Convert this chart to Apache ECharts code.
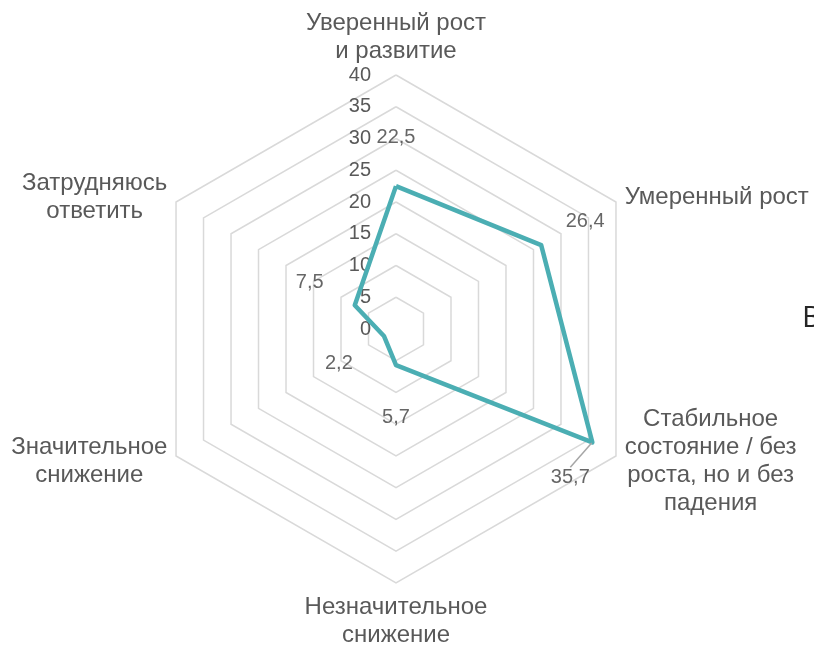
<!DOCTYPE html>
<html>
<head>
<meta charset="utf-8">
<script src="https://cdn.jsdelivr.net/npm/echarts@6/dist/echarts.min.js"></script>
<style>
  html, body { margin: 0; padding: 0; background: #fff; }
  #chart { width: 814px; height: 646px; }
</style>
</head>
<body>
<div id="chart"></div>
<script>
// Categories clockwise from the top
const categories = [
  "Уверенный рост\nи развитие",
  "Умеренный рост",
  "Стабильное\nсостояние / без\nроста, но и без\nпадения",
  "Незначительное\nснижение",
  "Значительное\nснижение",
  "Затрудняюсь\nответить",
];
const values = [22.5, 26.4, 35.7, 5.7, 2.2, 7.5];
const axisMax = 40;
const axisSplits = 8;

// label shifts (px) for the value labels
const labelShift = [
  [0, -49],
  [44, -24],
  [-22, 35],
  [0, 52],
  [-45, 27],
  [-45, -23],
];

const center = [396, 329];
const radius = 254;
const font = '"Liberation Sans", Arial, sans-serif';
const nameColor = "#595959";
const lineColor = "#4BAEB3";

// radar goes counter-clockwise, so walk the list backwards after the first
const order = [0, 5, 4, 3, 2, 1];

const fmt = (v) => String(v).replace(".", ",");

const chart = echarts.init(document.getElementById("chart"));

const option = {
  backgroundColor: "#fff",
  textStyle: { fontFamily: font },
  radar: {
    center: center,
    radius: radius,
    shape: "polygon",
    splitNumber: axisSplits,
    startAngle: 90,
    indicator: order.map((i, k) => ({
      name: categories[i],
      min: 0,
      max: axisMax,
      axisLabel:
        k === 0
          ? {
              show: true,
              color: nameColor,
              fontFamily: font,
              fontSize: 20,
              margin: 25,
              formatter: (v) => fmt(v),
            }
          : { show: false },
    })),
    axisName: {
      color: nameColor,
      fontFamily: font,
      fontSize: 24,
      lineHeight: 28,
      formatter: (name) =>
        name
          .split("\n")
          .map((s) => "{c|" + s + "}")
          .join("\n"),
      rich: {
        c: {
          align: "center",
          color: nameColor,
          fontFamily: font,
          fontSize: 24,
          lineHeight: 28,
        },
      },
    },
    nameGap: 10,
    axisLine: { show: false },
    axisTick: { show: false },
    axisLabel: { show: false },
    splitLine: { lineStyle: { color: "#D9D9D9", width: 1.5 } },
    splitArea: { show: false },
  },
  polar: { center: center, radius: radius },
  angleAxis: {
    type: "category",
    data: categories,
    startAngle: 90,
    clockwise: true,
    boundaryGap: false,
    axisLine: { show: false },
    axisTick: { show: false },
    axisLabel: { show: false },
    splitLine: { show: false },
  },
  radiusAxis: {
    min: 0,
    max: axisMax,
    axisLine: { show: false },
    axisTick: { show: false },
    axisLabel: { show: false },
    splitLine: { show: false },
  },
  series: [
    {
      type: "radar",
      symbol: "none",
      lineStyle: { color: lineColor, width: 4.5 },
      itemStyle: { color: lineColor },
      data: [{ value: order.map((i) => values[i]) }],
      silent: true,
    },
    {
      type: "scatter",
      coordinateSystem: "polar",
      symbolSize: 2,
      itemStyle: { color: "rgba(0,0,0,0)" },
      label: {
        show: true,
        position: "inside",
        color: "#404040",
        fontFamily: font,
        fontSize: 20,
        formatter: (p) => fmt(p.value[0]),
      },
      labelLine: { show: false },
      labelLayout: (p) => ({
        dx: labelShift[p.dataIndex][0],
        dy: labelShift[p.dataIndex][1],
      }),
      data: values.map((v, i) => ({
        value: [v, i],
        labelLine:
          i === 2
            ? { show: true, lineStyle: { color: "#A6A6A6", width: 1.5 } }
            : { show: false },
      })),
      silent: true,
    },
  ],
  graphic: [
    {
      type: "text",
      left: 802,
      top: 303,
      style: {
        text: "В",
        font: '30px "Open Sans", sans-serif',
        fill: "#262626",
      },
    },
  ],
};

chart.setOption(option);
</script>
</body>
</html>
